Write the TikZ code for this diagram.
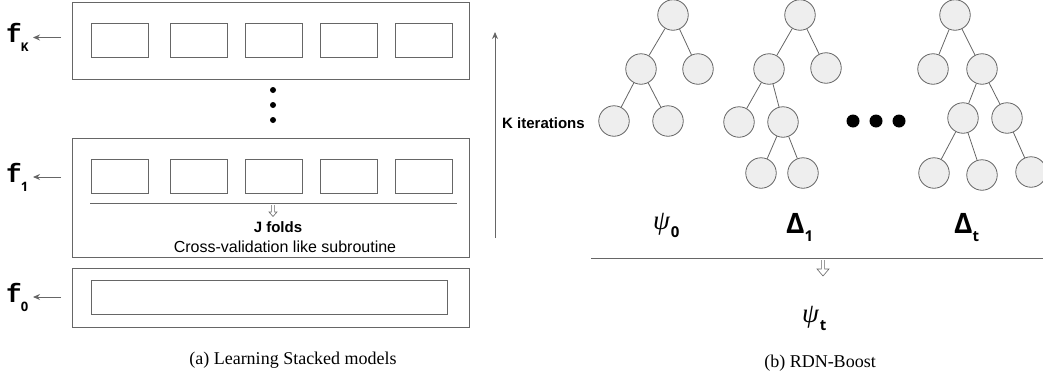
\documentclass[tikz,border=0pt]{standalone}
\usepackage{fontspec}
\setmainfont{Liberation Serif}
\newfontfamily\arialf{Liberation Sans}
\newfontfamily\monof{Liberation Mono}
\newfontfamily\osans{Open Sans}
\usetikzlibrary{arrows.meta}
\definecolor{lg}{RGB}{102,102,102}
\definecolor{cfill}{RGB}{238,238,238}
\newcommand\flab[2]{{\monof\bfseries\fontsize{26}{26}\selectfont f}\kern-1pt\raisebox{-9pt}{#2\fontsize{13}{13}\selectfont #1}}
\newcommand\psilab[1]{{\itshape\fontsize{27}{27}\selectfont ψ}\kern1pt\raisebox{-8pt}{\osans\bfseries\fontsize{15}{15}\selectfont #1}}
\newcommand\dlab[1]{{\osans\bfseries\fontsize{28}{28}\selectfont Δ}\raisebox{-8pt}{\osans\bfseries\fontsize{15}{15}\selectfont #1}}
\newcommand\hollowarrow[5]{% x, y0, y1, y2, half width of head
  \draw[draw=lg,line width=0.6pt,fill=white] (#1-1.6,#2) -- (#1-1.6,#3) -- (#1-#5,#3) -- (#1,#4) -- (#1+#5,#3) -- (#1+1.6,#3) -- (#1+1.6,#2);}
\begin{document}
\begin{tikzpicture}[x=1pt,y=-1pt,
  outer/.style={draw=lg,line width=0.9pt,inner sep=0pt,minimum width=397pt},
  cell/.style={draw=lg,line width=0.9pt,inner sep=0pt,minimum width=57pt,minimum height=34pt},
  tn/.style={circle,draw=lg,fill=cfill,line width=0.8pt,minimum size=30.5pt,inner sep=0pt},
  edge/.style={draw=lg,line width=0.8pt},
  garrow/.style={draw=lg,line width=0.9pt,-{Stealth[length=7pt,width=6pt]}},
  dot/.style={circle,fill=black,inner sep=0pt}]
\useasboundingbox (0,0) rectangle (1043,383);
% ---------- left panel ----------
\node[outer,minimum height=77pt] (boxK) at (270.5,40.5) {};
\node[outer,minimum height=119pt] (box1) at (270.5,197.5) {};
\node[outer,minimum height=59pt] (box0) at (270.5,297.5) {};
\foreach \i/\x in {1/120,2/199,3/273.5,4/348.5,5/423.5}{
  \node[cell] (k\i) at (\x,40) {};
  \node[cell] (o\i) at (\x,176) {};
}
\node[draw=lg,line width=0.9pt,inner sep=0pt,minimum width=356pt,minimum height=34pt] (z1) at (269,297) {};
\node[dot,minimum size=6pt] (v1) at (273,90) {};
\node[dot,minimum size=6pt] (v2) at (273,105) {};
\node[dot,minimum size=6pt] (v3) at (273,120) {};
% f labels
\node[anchor=base west,inner sep=0pt] (fK) at (6,42) {\flab{K}{\monof\bfseries}};
\node[anchor=base west,inner sep=0pt] (f1) at (6,182) {\flab{1}{\osans\bfseries}};
\node[anchor=base west,inner sep=0pt] (f0) at (6,302) {\flab{0}{\osans\bfseries}};
\coordinate (aK) at (61,37.5);
\coordinate (a1) at (61,177);
\coordinate (a0) at (61,297);
\coordinate (eK) at (33,37.5);
\coordinate (e1) at (33,177);
\coordinate (e0) at (33,297);
\draw[garrow] (aK) -- (eK);
\draw[garrow] (a1) -- (e1);
\draw[garrow] (a0) -- (e0);
% folds line
\coordinate (fl1) at (90,203);
\coordinate (fl2) at (457,203);
\draw[draw=lg,line width=0.9pt] (fl1) -- (fl2);
\hollowarrow{273}{205}{212}{216.5}{4}
\node[font=\arialf\bfseries\fontsize{15}{15}\selectfont] (jf) at (278,227) {J folds};
\node[font=\arialf\fontsize{16}{16}\selectfont] (cv) at (285,247) {Cross-validation like subroutine};
% K iterations
\coordinate (it1) at (495,238);
\coordinate (it2) at (495,32);
\draw[garrow] (it1) -- (it2);
\node[font=\arialf\bfseries\fontsize{15}{15}\selectfont,anchor=west,inner sep=0pt] (kit) at (502,123) {K iterations};
\node[font=\fontsize{18}{18}\selectfont] (capa) at (293,360) {(a) Learning Stacked models};
% ---------- right panel ----------
% tree psi0
\node[tn] (a0r) at (673,15) {};
\node[tn] (a0l) at (641,69) {};
\node[tn] (a0rr) at (698,69) {};
\node[tn] (a0ll) at (614,121) {};
\node[tn] (a0lr) at (668,121) {};
\draw[edge] (a0r) -- (a0l); \draw[edge] (a0r) -- (a0rr);
\draw[edge] (a0l) -- (a0ll); \draw[edge] (a0l) -- (a0lr);
% tree Delta1
\node[tn] (b0) at (800,15) {};
\node[tn] (b1) at (769,69) {};
\node[tn] (b2) at (826,68) {};
\node[tn] (b3) at (739,122) {};
\node[tn] (b4) at (783,122) {};
\node[tn] (b5) at (761,173) {};
\node[tn] (b6) at (803,173) {};
\draw[edge] (b0) -- (b1); \draw[edge] (b0) -- (b2);
\draw[edge] (b1) -- (b3); \draw[edge] (b1) -- (b4);
\draw[edge] (b4) -- (b5); \draw[edge] (b4) -- (b6);
% dots
\node[dot,minimum size=13pt] (d1) at (853,121) {};
\node[dot,minimum size=13pt] (d2) at (876,121) {};
\node[dot,minimum size=13pt] (d3) at (899,121) {};
% tree Delta t
\node[tn] (c0) at (955,15) {};
\node[tn] (c1) at (933,69) {};
\node[tn] (c2) at (982,69) {};
\node[tn] (c3) at (963,118) {};
\node[tn] (c4) at (1007,118) {};
\node[tn] (c5) at (934,173) {};
\node[tn] (c6) at (982,175) {};
\node[tn] (c7) at (1031,172) {};
\draw[edge] (c0) -- (c1); \draw[edge] (c0) -- (c2);
\draw[edge] (c2) -- (c3); \draw[edge] (c2) -- (c4);
\draw[edge] (c3) -- (c5); \draw[edge] (c3) -- (c6);
\draw[edge] (c4) -- (c7);
% labels
\node[anchor=base west,inner sep=0pt] (p0) at (653,229) {\psilab{0}};
\node[anchor=base west,inner sep=0pt] (D1) at (786,233) {\dlab{1}};
\node[anchor=base west,inner sep=0pt] (Dt) at (954,233) {\dlab{t}};
\coordinate (bl1) at (591,258);
\coordinate (bl2) at (1043,258);
\draw[draw=lg,line width=1pt] (bl1) -- (bl2);
\hollowarrow{823}{260}{269}{276}{6}
\node[anchor=base west,inner sep=0pt] (pt) at (802,322) {\psilab{t}};
\node[font=\fontsize{18}{18}\selectfont] (capb) at (820,363) {(b) RDN-Boost};
\end{tikzpicture}
\end{document}
